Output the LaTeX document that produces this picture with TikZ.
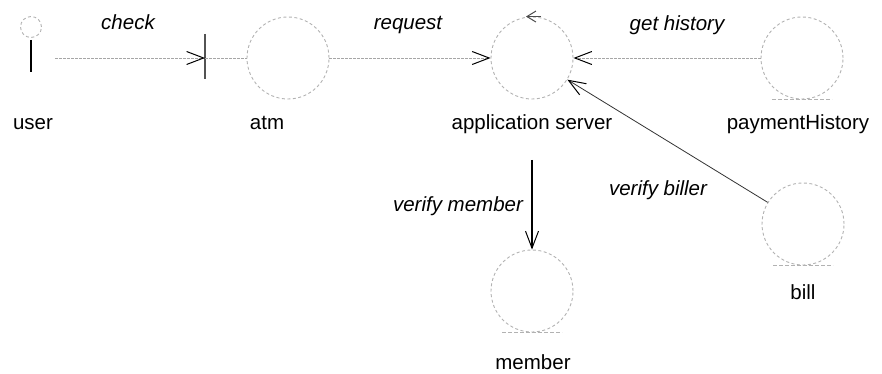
\documentclass[tikz,border=0pt]{standalone}
\usepackage{fontspec}
\setmainfont{Liberation Sans}
\usetikzlibrary{arrows.meta}
\begin{document}
\begin{tikzpicture}[x=1pt, y=-1pt,
	icon/.style={circle, draw=gray!60, dash pattern=on 3pt off 2.5pt, line width=0.9pt, minimum size=82pt, inner sep=0pt},
	lbl/.style={anchor=base, inner sep=0pt, font=\fontsize{20.5}{24}\selectfont},
	msglbl/.style={lbl, font=\fontsize{20.5}{24}\selectfont\itshape},
	barb/.style={-{Straight Barb[length=17pt, width=13pt, line width=1pt, color=black]}},
	msg/.style={barb, draw=gray!70, dash pattern=on 2.5pt off 1.5pt, line width=0.9pt},
	underline/.style={draw=gray!60, dash pattern=on 4pt off 2pt, line width=1pt}]
	\useasboundingbox (0,0) rectangle (882,374);
	% icons
	\node[icon, minimum size=21pt] (head) at (31,27) {};
	\draw[line width=1.3pt] ([yshift=-2pt]head.south) -- ++(0,32);
	\coordinate (actor) at (55,58);
	\coordinate (bline) at (205,58);
	\draw[line width=1.3pt, gray!65!black] (205,34) -- (205,79);
	\node[icon] (atm) at (288,58) {};
	\node[icon] (server) at (532,58) {};
	\node[icon] (history) at (802,58) {};
	\node[icon] (bill) at (803,224) {};
	\node[icon] (member) at (532,291) {};
	\draw[gray!60!black, line width=0.9pt, -{Straight Barb[length=9pt, width=11pt, line width=1pt]}] ([xshift=9pt]server.north) -- ([xshift=-6pt]server.north);
	\draw[underline] ([xshift=-30pt]history.south) -- ([xshift=30pt]history.south);
	\draw[underline] ([xshift=-30pt]bill.south) -- ([xshift=30pt]bill.south);
	\draw[underline] ([xshift=-30pt]member.south) -- ([xshift=30pt]member.south);
	% connectors
	\coordinate (srvout) at (532,160);
	\draw[msg] (actor) -- (bline);
	\draw[draw=gray!70, dash pattern=on 2.5pt off 1.5pt, line width=0.9pt] (bline) -- (atm);
	\draw[msg] (atm) -- (server);
	\draw[msg] (history) -- (server);
	\draw[barb, line width=1.1pt] (srvout) -- (member);
	\draw[barb, gray!40!black, line width=0.8pt] (bill) -- (server);
	% labels
	\node[lbl] (userlbl) at (33,130) {user};
	\node[lbl] (atmlbl) at (267,130) {atm};
	\node[lbl] (serverlbl) at (532,130) {application server};
	\node[lbl] (historylbl) at (798,130) {paymentHistory};
	\node[lbl] (billlbl) at (803,299) {bill};
	\node[lbl] (memberlbl) at (533,369) {member};
	\node[msglbl] (checklbl) at (128,30) {check};
	\node[msglbl] (requestlbl) at (408,30) {request};
	\node[msglbl] (historymsg) at (677,31) {get history};
	\node[msglbl] (membermsg) at (458,211) {verify member};
	\node[msglbl] (billmsg) at (658,195) {verify biller};
\end{tikzpicture}
\end{document}
